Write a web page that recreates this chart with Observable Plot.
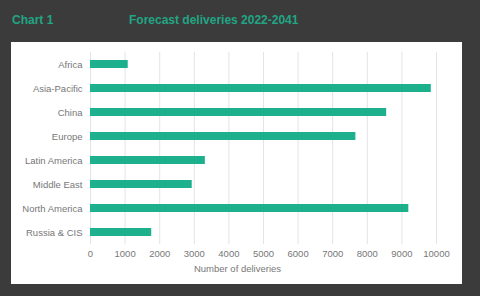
<!DOCTYPE html>
<html>
<head>
<meta charset="utf-8">
<script src="https://cdn.jsdelivr.net/npm/d3@7"></script>
<script src="https://cdn.jsdelivr.net/npm/@observablehq/plot@0.6"></script>
<style>
  html, body { margin: 0; padding: 0; background: #3b3b3b; width: 480px; height: 296px; overflow: hidden; }
  #title { position: absolute; top: 13px; left: 12px; font-family: "Liberation Sans", Arial, sans-serif; font-weight: bold; font-size: 12px; color: #22a584; white-space: nowrap; }
  #title span.sub { position: absolute; left: 117px; }
  #panel { position: absolute; left: 11px; top: 42px; width: 451px; height: 242px; background: #fff; }
</style>
</head>
<body>
<div id="title"><span>Chart 1</span><span class="sub">Forecast deliveries 2022-2041</span></div>
<div id="panel"></div>
<script>
const regions = ["Africa", "Asia-Pacific", "China", "Europe", "Latin America", "Middle East", "North America", "Russia & CIS"];
const deliveries = [1090, 9850, 8560, 7670, 3320, 2940, 9200, 1770];
const xTicks = [0, 1000, 2000, 3000, 4000, 5000, 6000, 7000, 8000, 9000, 10000];
const xLabel = "Number of deliveries";

const data = regions.map((r, i) => ({region: r, value: deliveries[i]}));

const chart = Plot.plot({
  width: 451,
  height: 242,
  marginTop: 10,
  marginBottom: 40,
  marginLeft: 79,
  marginRight: 26,
  style: {fontFamily: "Liberation Sans, Arial, sans-serif", fontSize: "9.5px", color: "#777777", background: "transparent"},
  x: {domain: [0, 10000], ticks: xTicks, label: null},
  y: {domain: regions, label: null, paddingInner: 0.66, paddingOuter: 0.33},
  marks: [
    Plot.gridX(xTicks, {stroke: "#e4e4e4", strokeOpacity: 1, strokeWidth: 1}),
    Plot.barX(data, {y: "region", x: "value", fill: "#1db08d"}),
    Plot.axisX({ticks: xTicks, tickSize: 0, tickPadding: 6, fontSize: 9.5, label: null, tickFormat: d => String(d)}),
    Plot.axisY({tickSize: 0, tickPadding: 8, fontSize: 9.5, label: null}),
    Plot.text([xLabel], {frameAnchor: "bottom", dx: -26, dy: 27, fontSize: 9.5, fill: "#777777", text: d => d})
  ]
});
document.getElementById("panel").appendChild(chart);
</script>
</body>
</html>
